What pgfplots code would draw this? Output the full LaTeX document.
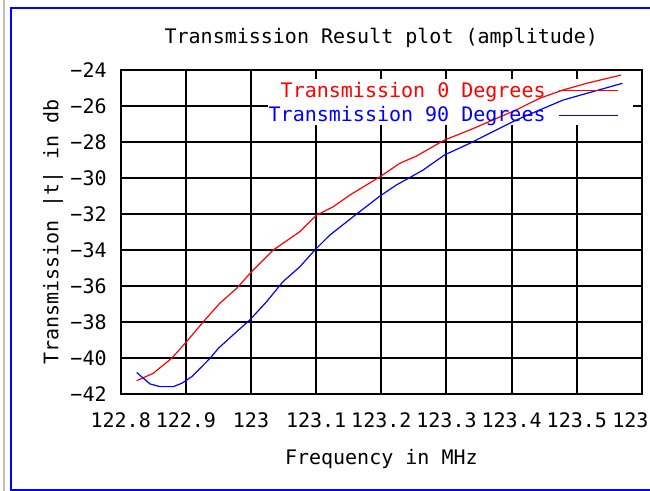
\documentclass[border=0pt]{standalone}
\usepackage{fontspec}
\setmainfont{DejaVu Sans Mono}
\usepackage{pgfplots}
\pgfplotsset{compat=1.18}
\pgfplotsset{
  base/.style={
    at={(60.35pt,48.5pt)}, anchor=south west,
    scale only axis, width=260.65pt, height=162pt,
    xmin=122.8, xmax=123.6, ymin=-42, ymax=-24,
    ytick={-42,-40,-38,-36,-34,-32,-30,-28,-26,-24},
  }
}
\begin{document}
\begin{tikzpicture}
\useasboundingbox (0,0) rectangle (325pt,245.5pt);
\clip (0,0) rectangle (325pt,245.5pt);
\fill[white] (0,0) rectangle (325pt,245.5pt);
\draw[line width=1pt, black!25] (2pt,-2pt) -- (2pt,250pt);
\draw[line width=1pt, blue] (5.5pt,0.5pt) rectangle (340pt,241.5pt);

% grid layer
\begin{axis}[base,
  xtick={122.8,122.9,123.0,123.1,123.2,123.3,123.4,123.5,123.6},
  grid=major, major grid style={black, line width=1pt},
  axis line style={draw=none}, major tick length=0pt,
  xticklabels={}, yticklabels={}]
\fill[white] (axis cs:123.026,-27.06) rectangle (axis cs:123.62,-23.9);
\end{axis}

% frame, ticks, labels, curves
\begin{axis}[base,
  xtick={122.8,122.9,123.0,123.1,123.2,123.3,123.4,123.5},
  extra x ticks={123.6}, extra x tick labels={123},
  extra x tick style={xticklabel style={anchor=north west, xshift=-15pt}},
  axis line style={black, line width=1pt},
  every tick/.style={black, line width=1pt},
  tick align=inside, major tick length=4.5pt,
  xticklabels={122.8,122.9,123,123.1,123.2,123.3,123.4,123.5},
  yticklabels={−42,−40,−38,−36,−34,−32,−30,−28,−26,−24},
  xticklabel style={anchor=north, inner sep=0pt, yshift=-9pt},
  yticklabel style={anchor=east, inner sep=0pt, xshift=-6.85pt},
  title={Transmission Result plot (amplitude)},
  every axis title/.style={at={(axis description cs:0.5,1.0833)}, anchor=base, inner sep=0pt},
  xlabel={Frequency in MHz},
  every axis x label/.style={at={(axis description cs:0.5,-0.2191)}, anchor=base, inner sep=0pt},
  ylabel={Transmission |t| in db},
  every axis y label/.style={at={(axis description cs:-0.1197,0.5)}, rotate=90, anchor=base, inner sep=0pt},
  legend style={at={(0.956,0.959)}, anchor=north east, draw=none, fill=none,
    inner sep=0pt, outer sep=0pt, row sep=4.7pt, column sep=6.6pt,
    nodes={inner sep=0pt, text height=7pt, text depth=0.5pt}},
  legend cell align=right, legend plot pos=right,
  legend image code/.code={\draw[#1] (0pt,0pt) -- (29.5pt,0pt);},
]
\addplot[red, line width=0.6pt] coordinates {
(122.8245,-41.26) (122.850,-40.85) (122.878,-40.02) (122.899,-39.18)
(122.927,-37.98) (122.952,-36.96) (122.978,-36.13) (123.001,-35.20)
(123.034,-34.00) (123.049,-33.63) (123.075,-32.98) (123.100,-32.08)
(123.126,-31.60) (123.152,-30.94) (123.177,-30.39) (123.198,-29.93)
(123.228,-29.19) (123.254,-28.78) (123.297,-27.89) (123.336,-27.33)
(123.371,-26.78) (123.407,-26.22) (123.443,-25.57) (123.479,-25.11)
(123.515,-24.74) (123.568,-24.28)
};
\addlegendentry{\textcolor{red}{Transmission 0 Degrees}}
\addplot[blue, line width=0.6pt] coordinates {
(122.8245,-40.80) (122.832,-41.04) (122.845,-41.44) (122.860,-41.59)
(122.881,-41.59) (122.894,-41.40) (122.909,-41.04) (122.922,-40.57)
(122.937,-40.02) (122.950,-39.46) (122.970,-38.80) (122.998,-37.89)
(123.024,-36.87) (123.049,-35.76) (123.075,-34.93) (123.098,-34.00)
(123.121,-33.17) (123.160,-32.06) (123.198,-31.00) (123.223,-30.39)
(123.239,-30.07) (123.264,-29.56) (123.297,-28.72) (123.336,-28.07)
(123.371,-27.43) (123.407,-26.78) (123.443,-26.22) (123.479,-25.67)
(123.515,-25.30) (123.570,-24.74)
};
\addlegendentry{\textcolor{blue}{Transmission 90 Degrees}}
\end{axis}
\end{tikzpicture}
\end{document}
